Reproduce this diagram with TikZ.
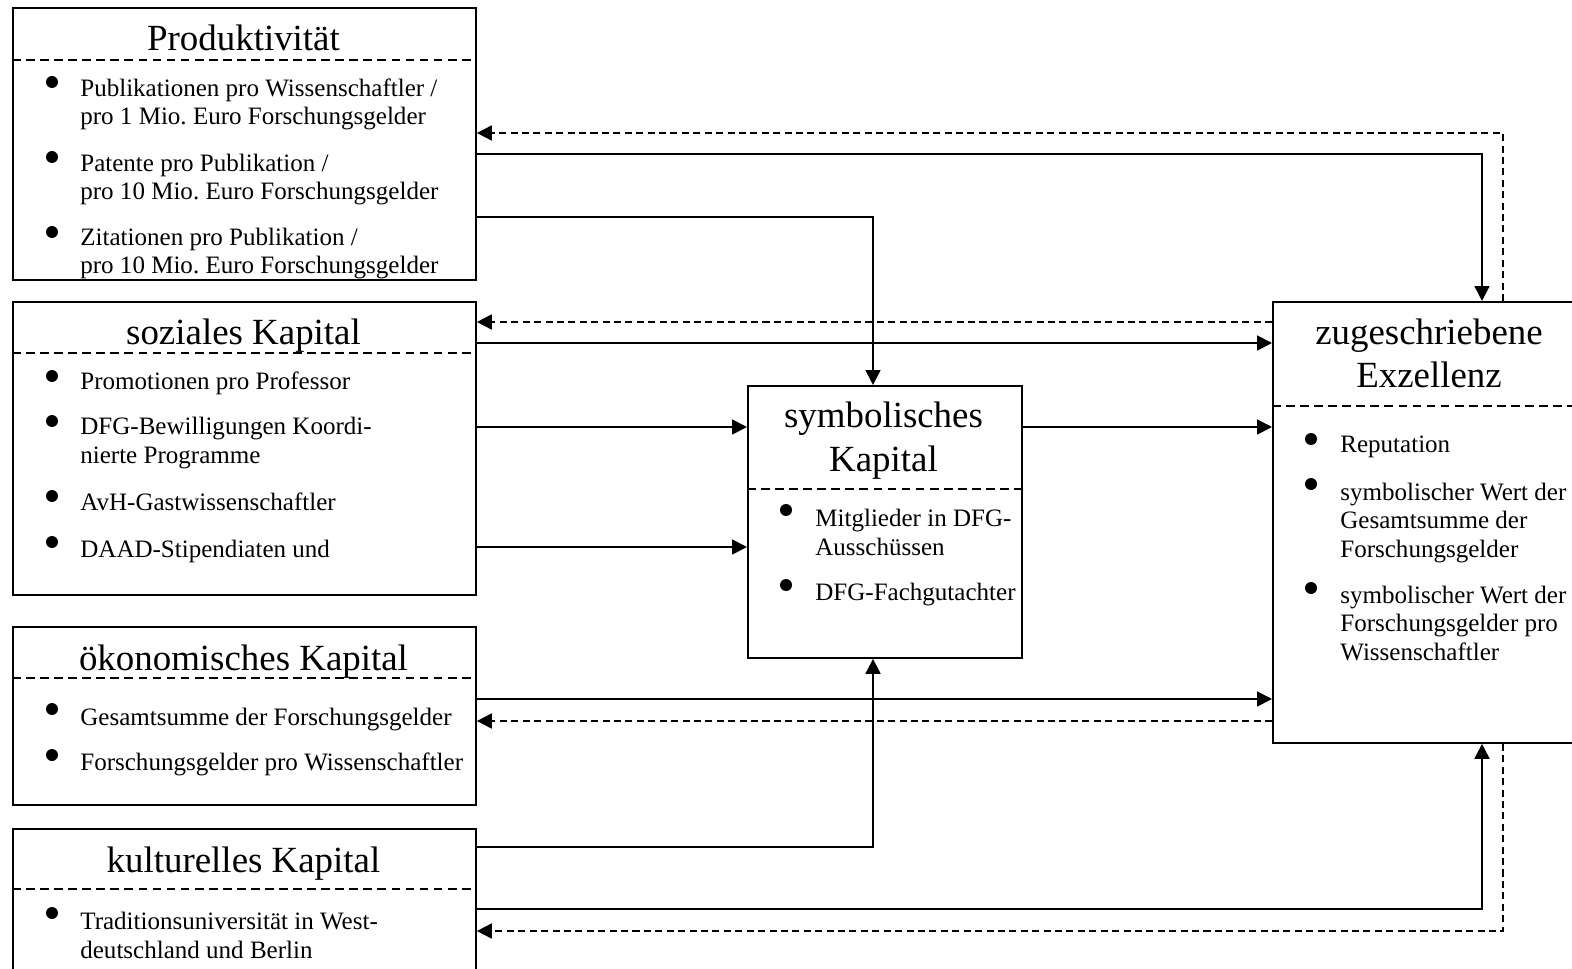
\documentclass[tikz,border=0pt]{standalone}
\usepackage{fontspec}
\setmainfont{Liberation Serif}
\usetikzlibrary{arrows.meta}
\frenchspacing

\begin{document}
\begin{tikzpicture}[x=0.02cm, y=-0.02cm,
  kasten/.style={draw, rectangle, line width=1.1pt, anchor=north west, inner sep=0},
  titel/.style={font=\fontsize{21}{25}\selectfont, align=center, anchor=base},
  eintrag/.style={font=\fontsize{14.25}{16.2}\selectfont, align=left, anchor=base west, inner sep=0},
  trenn/.style={line width=1pt, dash pattern=on 5pt off 3pt},
  gestrichelt/.style={dash pattern=on 4pt off 2.5pt},
  pfeil/.style={line width=1pt, -{Triangle[length=8.5pt,width=8.5pt]}}]
  \clip (0,0) rectangle (1572,969);

  \node (prod) [kasten, minimum width=9.26cm, minimum height=5.44cm] at (12,7) {};
  \node (soz) [kasten, minimum width=9.26cm, minimum height=5.86cm] at (12,301) {};
  \node (oek) [kasten, minimum width=9.26cm, minimum height=3.56cm] at (12,626) {};
  \node (kult) [kasten, minimum width=9.26cm, minimum height=4cm] at (12,828) {};
  \node (sym) [kasten, minimum width=5.48cm, minimum height=5.44cm] at (747,385) {};
  \node (exz) [kasten, minimum width=6.28cm, minimum height=8.82cm] at (1272,301) {};

  \draw[trenn] (prod.west |- 0,60) -- (prod.east |- 0,60);
  \draw[trenn] (soz.west |- 0,353) -- (soz.east |- 0,353);
  \draw[trenn] (oek.west |- 0,678) -- (oek.east |- 0,678);
  \draw[trenn] (kult.west |- 0,889) -- (kult.east |- 0,889);
  \draw[trenn] (sym.west |- 0,489) -- (sym.east |- 0,489);
  \draw[trenn] (exz.west |- 0,406) -- (exz.east |- 0,406);

  % Titel (bei mehreren Zeilen: Grundlinie der letzten Zeile)
  \node (prodtitel) [titel] at (243.5,51) {Produktivität};
  \node (soztitel) [titel] at (243.5,345) {soziales Kapital};
  \node (oektitel) [titel] at (243.5,670) {ökonomisches Kapital};
  \node (kulttitel) [titel] at (243.5,872) {kulturelles Kapital};
  \node (symtitel) [titel] at (883.5,471) {symbolisches\\Kapital};
  \node (exztitel) [titel] at (1429,388) {zugeschriebene\\Exzellenz};

  \node (p1) [eintrag] at (80,125) {Publikationen pro Wissenschaftler /\\pro 1 Mio. Euro Forschungsgelder};
  \node (p2) [eintrag] at (80,200) {Patente pro Publikation /\\pro 10 Mio. Euro Forschungsgelder};
  \node (p3) [eintrag] at (80,274) {Zitationen pro Publikation /\\pro 10 Mio. Euro Forschungsgelder};
  \node (s1) [eintrag] at (80,390) {Promotionen pro Professor};
  \node (s2) [eintrag] at (80,463) {DFG-Bewilligungen Koordi-\\nierte Programme};
  \node (s3) [eintrag] at (80,510) {AvH-Gastwissenschaftler};
  \node (s4) [eintrag] at (80,557) {DAAD-Stipendiaten und};
  \node (o1) [eintrag] at (80,725) {Gesamtsumme der Forschungsgelder};
  \node (o2) [eintrag] at (80,770) {Forschungsgelder pro Wissenschaftler};
  \node (k1) [eintrag] at (80,958) {Traditionsuniversität in West-\\deutschland und Berlin};
  \node (m1) [eintrag] at (815,555) {Mitglieder in DFG-\\Ausschüssen};
  \node (m2) [eintrag] at (815,600) {DFG-Fachgutachter};
  \node (e1) [eintrag] at (1340,453) {Reputation};
  \node (e2) [eintrag] at (1340,557) {symbolischer Wert der\\Gesamtsumme der\\Forschungsgelder};
  \node (e3) [eintrag] at (1340,660) {symbolischer Wert der\\Forschungsgelder pro\\Wissenschaftler};

  \foreach \pos in {(52,82),(52,157),(52,232),(52,376),(52,421),(52,496),(52,542),
    (52,709),(52,755),(52,913),(786,510),(786,585),(1311,439),(1311,484),(1311,588)}
    \fill \pos circle[radius=0.12cm];

  \draw[pfeil] (prod.east |- 0,154) -| (exz.north -| 1482,0);
  \draw[pfeil, gestrichelt] (exz.north -| 1503,0) |- (prod.east |- 0,133);
  \draw[pfeil] (prod.east |- 0,217) -| (sym.north -| 873,0);
  \draw[pfeil, gestrichelt] (exz.west |- 0,322) -- (soz.east |- 0,322);
  \draw[pfeil] (soz.east |- 0,343) -- (exz.west |- 0,343);
  \draw[pfeil] (soz.east |- 0,427) -- (sym.west |- 0,427);
  \draw[pfeil] (soz.east |- 0,547) -- (sym.west |- 0,547);
  \draw[pfeil] (sym.east |- 0,427) -- (exz.west |- 0,427);
  \draw[pfeil] (oek.east |- 0,699) -- (exz.west |- 0,699);
  \draw[pfeil, gestrichelt] (exz.west |- 0,721) -- (oek.east |- 0,721);
  \draw[pfeil] (kult.east |- 0,847) -| (sym.south -| 873,0);
  \draw[pfeil] (kult.east |- 0,909) -| (exz.south -| 1482,0);
  \draw[pfeil, gestrichelt] (exz.south -| 1503,0) |- (kult.east |- 0,931);
\end{tikzpicture}
\end{document}
